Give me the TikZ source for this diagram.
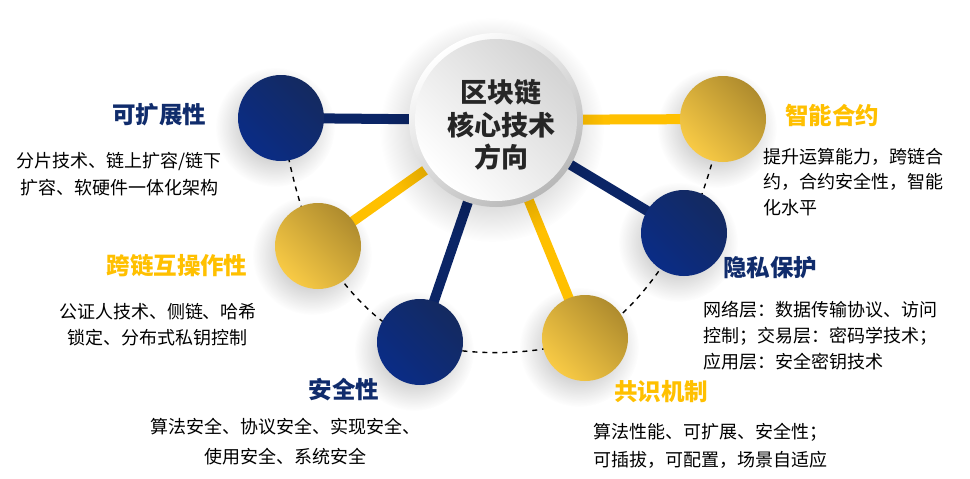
\documentclass[tikz,border=0pt]{standalone}
\usepackage{fontspec}
\newfontfamily\cjk{Noto Sans CJK SC}
\usetikzlibrary{fadings}
\tikzfading[name=softfade, inner color=transparent!20, outer color=transparent!100]
\definecolor{navyLight}{HTML}{0A2C86}
\definecolor{navyDark}{HTML}{142A60}
\definecolor{navySpoke}{HTML}{0B2566}
\definecolor{navyText}{HTML}{102C6C}
\definecolor{goldLight}{HTML}{F8CA45}
\definecolor{goldDark}{HTML}{AF8C2E}
\definecolor{goldSpoke}{HTML}{FFC000}
\definecolor{goldText}{HTML}{FFC000}
\definecolor{centerText}{HTML}{262626}
\begin{document}
\begin{tikzpicture}[x=1pt,y=1pt,
  shadowblob/.style={fill=black, fill opacity=0.45, path fading=softfade},
  spokenavy/.style={draw=navySpoke, line width=10pt},
  spokegold/.style={draw=goldSpoke, line width=10pt},
  dashedarc/.style={draw=black, line width=1.4pt, dash pattern=on 5pt off 5pt},
  navyball/.style={circle, minimum size=86pt, inner sep=0pt, top color=navyDark, bottom color=navyLight, shading angle=-45},
  goldball/.style={circle, minimum size=86pt, inner sep=0pt, top color=goldDark, bottom color=goldLight, shading angle=-45},
  rimball/.style={circle, minimum size=174pt, inner sep=0pt, top color=white, bottom color=black!28, shading angle=35},
  faceball/.style={circle, minimum size=162pt, inner sep=0pt, top color=black!17, bottom color=white, shading angle=-45},
  titlenavy/.style={font=\cjk\bfseries\fontsize{23.5}{28}\selectfont, text=navyText, inner sep=0pt},
  titlegold/.style={font=\cjk\bfseries\fontsize{23.5}{28}\selectfont, text=goldText, inner sep=0pt},
  bodytext/.style={font=\cjk\fontsize{18}{#1}\selectfont, text=black, inner sep=0pt},
]
\useasboundingbox[fill=white] (0,0) rectangle (970,-479);

\coordinate (C) at (496,-120);
\coordinate (s1) at (281,-118);
\coordinate (s2) at (318,-246);
\coordinate (s3) at (420,-342);
\coordinate (s4) at (585,-338);
\coordinate (s5) at (684,-233);
\coordinate (s6) at (723,-119);

% shadows of satellites
\foreach \s in {s1,s2,s3,s4,s5,s6}
  \path[shadowblob] ([shift={(-6,-9)}]\s) circle[radius=60];

% spokes
\draw[spokenavy] (C) -- (s1);
\draw[spokegold] (C) -- (s2);
\draw[spokenavy] (C) -- (s3);
\draw[spokegold] (C) -- (s4);
\draw[spokenavy] (C) -- (s5);
\draw[spokegold] (C) -- (s6);

% dashed arc
\draw[dashedarc] plot[smooth, tension=0.6] coordinates {(s1) (s2) (s3) (s4) (s5) (s6)};

% satellite balls
\node[navyball] (b1) at (s1) {};
\node[goldball] (b2) at (s2) {};
\node[navyball] (b3) at (s3) {};
\node[goldball] (b4) at (s4) {};
\node[navyball] (b5) at (s5) {};
\node[goldball] (b6) at (s6) {};

% center
\path[shadowblob, fill opacity=0.5] ([shift={(-4,-10)}]C) circle[radius=112];
\node[rimball] (rim) at (C) {};
\node[faceball] (face) at (C) {};
\node[font=\cjk\bfseries\fontsize{27}{32.5}\selectfont, text=centerText, align=center, inner sep=0pt] (ctext) at (501,-125) {区块链\\核心技术\\方向};

% titles
\node[titlenavy] (t1) at (159,-115) {可扩展性};
\node[titlegold] (t2) at (177,-266) {跨链互操作性};
\node[titlenavy] (t3) at (344,-390) {安全性};
\node[titlegold] (t4) at (661,-392) {共识机制};
\node[titlenavy] (t5) at (770,-268) {隐私保护};
\node[titlegold] (t6) at (832,-115) {智能合约};

% bodies
\node[bodytext=27, align=center] (d1) at (119,-174.5) {分片技术、链上扩容/链下\\扩容、软硬件一体化架构};
\node[bodytext=26, align=center] (d2) at (158,-325) {公证人技术、侧链、哈希\\锁定、分布式私钥控制};
\node[bodytext=30, align=center] (d3) at (285,-442) {算法安全、协议安全、实现安全、\\使用安全、系统安全};
\node[bodytext=28, align=left, anchor=west] (d4) at (593,-446) {算法性能、可扩展、安全性；\\可插拔，可配置，场景自适应};
\node[bodytext=26, align=left, anchor=west] (d5) at (703,-336) {网络层：数据传输协议、访问\\控制；交易层：密码学技术；\\应用层：安全密钥技术};
\node[bodytext=25.5, align=left, anchor=west] (d6) at (763,-182) {提升运算能力，跨链合\\约，合约安全性，智能\\化水平};
\end{tikzpicture}
\end{document}
